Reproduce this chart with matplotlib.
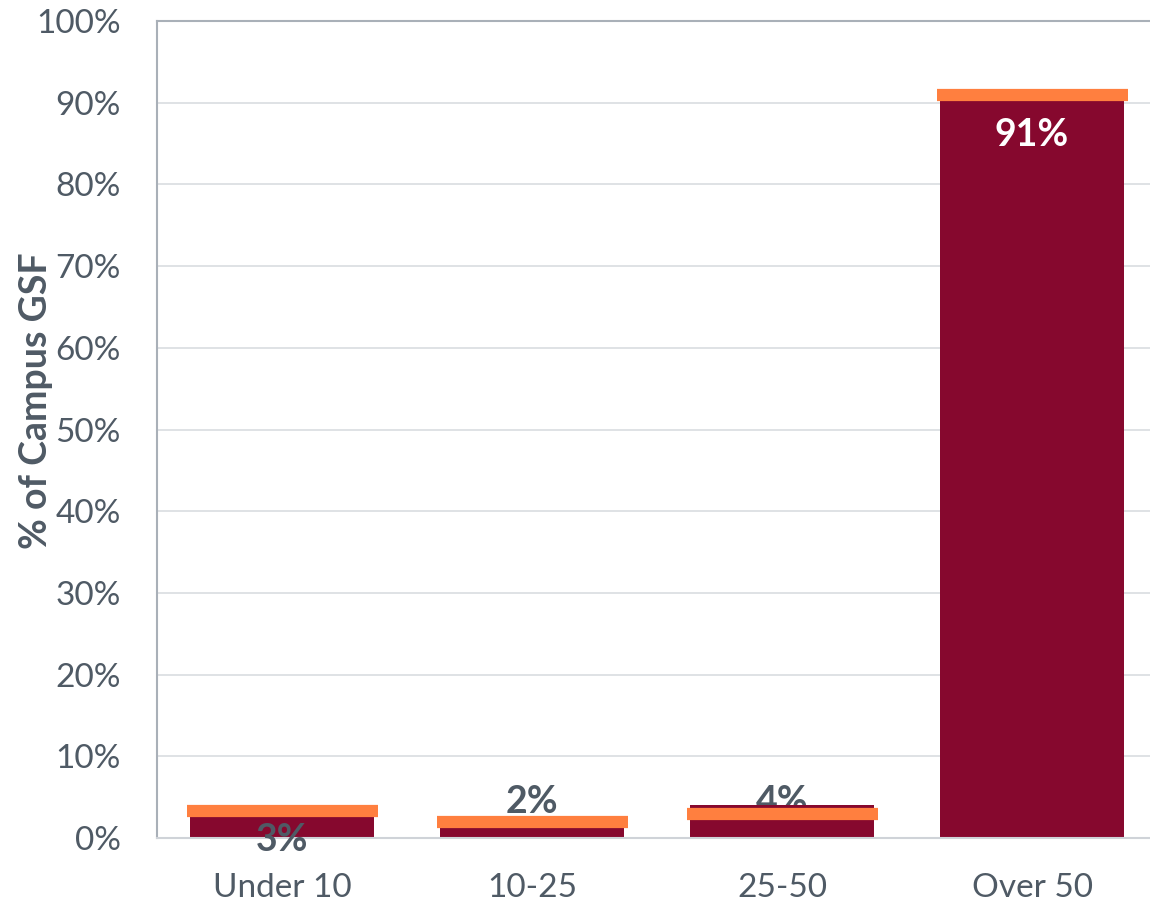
import matplotlib.pyplot as plt
import numpy as np

categories = ['Under 10', '10-25', '25-50', 'Over 50']
campus_pct = [3, 2, 4, 91]          # maroon bars
benchmark_pct = [3.3, 2.0, 2.9, 90.9]  # orange marker lines
label_text = ['3%', '2%', '4%', '91%']
yticks = list(range(0, 101, 10))

plt.rcParams['font.family'] = ['Lato', 'DejaVu Sans']
text_grey = '#4f5a65'
maroon = '#86082e'
orange = '#ff7f3f'

fig = plt.figure(figsize=(11.5, 9.05), dpi=100)
ax = fig.add_axes([157 / 1150, 67 / 905, 1000 / 1150, 817 / 905])

x = np.arange(len(categories))
ax.bar(x, campus_pct, width=0.736, color=maroon, zorder=2)
ax.hlines(benchmark_pct, x - 0.382, x + 0.382, color=orange, linewidth=8.8, zorder=3)

# data labels, placed roughly like the original deck
offsets = [-3.2, 2.4, 0.4, -5.0]
zords = [4, 4, 1.5, 4]
for xi, v, t, off, z in zip(x, campus_pct, label_text, offsets, zords):
    col = 'white' if v > 50 else text_grey
    ax.text(xi, v + off, t, ha='center', va='center', fontsize=27,
            fontweight='bold', color=col, zorder=z, clip_on=False)

ax.set_xlim(-0.5, 3.5)
ax.set_ylim(0, 100)
ax.set_yticks(yticks)
ax.set_yticklabels([f'{t}%' for t in yticks])
ax.set_xticks(x)
ax.set_xticklabels(categories)
ax.tick_params(axis='both', length=0, labelsize=24, labelcolor=text_grey)
ax.tick_params(axis='x', pad=25)
ax.tick_params(axis='y', pad=26)

ax.grid(axis='y', color='#dcdfe3', linewidth=1.3, zorder=0)
ax.set_axisbelow(True)
ax.spines['right'].set_visible(False)
ax.spines['left'].set_color('#a9b0b8')
ax.spines['top'].set_color('#a9b0b8')
ax.spines['bottom'].set_color('#cfd3d8')
for s in ['left', 'top', 'bottom']:
    ax.spines[s].set_linewidth(1.5)

ax.set_ylabel('% of Campus GSF', fontsize=27, fontweight='bold', color=text_grey)
ax.yaxis.set_label_coords(-0.104, 0.535)

fig.savefig('out.png', dpi=100)
